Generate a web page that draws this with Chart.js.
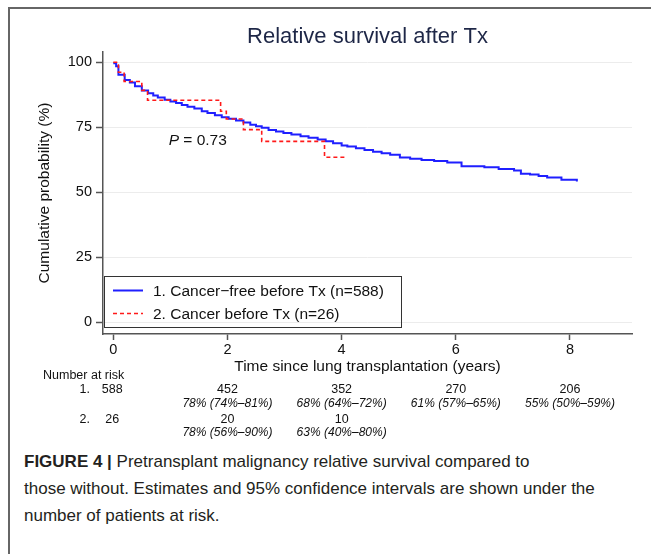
<!DOCTYPE html>
<html>
<head>
<meta charset="utf-8">
<script src="https://cdn.jsdelivr.net/npm/chart.js@4.4.1/dist/chart.umd.min.js"></script>
<style>
  html, body { margin: 0; padding: 0; background: #fff; }
  body { width: 651px; height: 554px; position: relative; overflow: hidden; font-family: "Liberation Sans", Arial, sans-serif; }
  #frame { position: absolute; left: 8px; top: 7px; width: 660px; height: 560px; border-top: 2px solid #666; border-left: 2px solid #666; }
  #wrap { position: absolute; left: 0; top: 0; width: 651px; height: 445px; }
  #caption { position: absolute; left: 24px; top: 448px; font-size: 17px; line-height: 27px; color: #231f20; white-space: nowrap; }
  #caption b { font-weight: bold; }
</style>
</head>
<body>
<div id="frame"></div>
<div id="wrap"><canvas id="km" width="651" height="445"></canvas></div>
<div id="caption"><b>FIGURE 4 |</b> Pretransplant malignancy relative survival compared to<br>those without. Estimates and 95% confidence intervals are shown under the<br>number of patients at risk.</div>
<script>
const chartTitle = 'Relative survival after Tx';
const seriesLabels = ['1. Cancer\u2212free before Tx (n=588)', '2. Cancer before Tx (n=26)'];

// Kaplan-Meier steps (years, %)
const blueTimes = [0, 0.05, 0.09, 0.2, 0.29, 0.38, 0.5, 0.61, 0.7, 0.78, 0.9, 1.0, 1.1, 1.2, 1.3, 1.42, 1.55, 1.65, 1.78, 1.9,
  2.02, 2.15, 2.28, 2.4, 2.5, 2.6, 2.72, 2.85, 2.98, 3.12, 3.28, 3.42, 3.58, 3.72, 3.85, 4.0, 4.1, 4.25, 4.4, 4.55,
  4.7, 4.85, 5.02, 5.2, 5.4, 5.62, 5.85, 6.1, 6.5, 6.75, 7.02, 7.14, 7.3, 7.45, 7.6, 7.85, 8.1, 8.12];
const blueSurv = [99.6, 98.5, 95.2, 93.2, 92.2, 90.8, 89.2, 88.1, 87.2, 86.5, 85.6, 84.9, 84.3, 83.6, 82.9, 82.2, 81.2, 80.5, 79.6, 78.9,
  78.3, 77.6, 76.8, 76.0, 75.4, 74.8, 74.0, 73.4, 72.8, 72.2, 71.6, 71.0, 70.3, 69.6, 68.9, 68.0, 67.6, 66.9, 66.3, 65.6,
  65.0, 64.4, 63.4, 62.9, 62.4, 62.0, 61.5, 60.0, 59.6, 59.0, 58.4, 57.1, 56.8, 56.3, 55.7, 54.8, 54.8, 54.2];
const redTimes = [0, 0.09, 0.19, 0.5, 0.6, 1.88, 1.98, 2.28, 2.6, 3.7, 4.1];
const redSurv = [100, 96.2, 92.6, 89.2, 85.4, 81.2, 78.2, 74.1, 69.6, 63.5, 63.5];

const xTicks = [0, 2, 4, 6, 8];
const yTicks = [0, 25, 50, 75, 100];

const riskTimes = [0, 2, 4, 6, 8];
const risk1 = [588, 452, 352, 270, 206];
const risk2 = [26, 20, 10];
const est1 = ['', '78% (74%\u201381%)', '68% (64%\u201372%)', '61% (57%\u201365%)', '55% (50%\u201359%)'];
const est2 = ['', '78% (56%\u201390%)', '63% (40%\u201380%)'];
const pText = ['P', ' = 0.73'];

const FONT = '"Liberation Sans", Arial, sans-serif';
const BLUE = '#1f1fff';
const RED = '#ff1a1a';

const toPoints = (ts, vs) => ts.map((t, i) => ({ x: t, y: vs[i] }));

const overlay = {
  id: 'overlay',
  afterDraw(chart) {
    const { ctx, chartArea, scales } = chart;
    const x = scales.x, y = scales.y;
    ctx.save();

    // title
    ctx.fillStyle = '#1e2747';
    ctx.font = '22px ' + FONT;
    ctx.textAlign = 'center';
    ctx.textBaseline = 'middle';
    ctx.fillText(chartTitle, (chartArea.left + chartArea.right) / 2, 37);

    // p-value
    ctx.fillStyle = '#111';
    ctx.textAlign = 'left';
    const px = x.getPixelForValue(0.97), py = y.getPixelForValue(69.8);
    ctx.font = 'italic 15.5px ' + FONT;
    ctx.fillText(pText[0], px, py);
    const w = ctx.measureText(pText[0]).width;
    ctx.font = '15.5px ' + FONT;
    ctx.fillText(pText[1], px + w, py);

    // legend box
    ctx.strokeStyle = '#333';
    ctx.lineWidth = 1;
    ctx.strokeRect(104.5, 276.5, 297, 51);
    const rows = [290.5, 313.5];
    chart.data.datasets.forEach((ds, i) => {
      ctx.beginPath();
      ctx.strokeStyle = ds.borderColor;
      ctx.lineWidth = ds.borderWidth;
      ctx.setLineDash(ds.borderDash || []);
      ctx.moveTo(113, rows[i]);
      ctx.lineTo(143, rows[i]);
      ctx.stroke();
      ctx.setLineDash([]);
      ctx.fillStyle = '#111';
      ctx.font = '15.5px ' + FONT;
      ctx.fillText(ds.label, 153, rows[i] + 1);
    });

    // number at risk table
    ctx.fillStyle = '#111';
    ctx.font = '12.5px ' + FONT;
    ctx.textAlign = 'left';
    ctx.fillText('Number at risk', 43, 376);
    ctx.textAlign = 'right';
    ctx.fillText('1.', 90, 390);
    ctx.fillText('2.', 90, 420);
    ctx.textAlign = 'center';
    risk1.forEach((n, i) => ctx.fillText(String(n), x.getPixelForValue(riskTimes[i]) + (i === 0 ? -1 : 0), 390));
    risk2.forEach((n, i) => ctx.fillText(String(n), x.getPixelForValue(riskTimes[i]) + (i === 0 ? -1 : 0), 420));
    ctx.font = 'italic 12px ' + FONT;
    est1.forEach((s, i) => { if (s) ctx.fillText(s, x.getPixelForValue(riskTimes[i]), 403.5); });
    est2.forEach((s, i) => { if (s) ctx.fillText(s, x.getPixelForValue(riskTimes[i]), 433); });

    ctx.restore();
  }
};

new Chart(document.getElementById('km'), {
  type: 'line',
  data: {
    datasets: [
      {
        label: seriesLabels[0],
        data: toPoints(blueTimes, blueSurv),
        borderColor: BLUE,
        borderWidth: 2,
        stepped: true,
        pointRadius: 0,
        order: 1
      },
      {
        label: seriesLabels[1],
        data: toPoints(redTimes, redSurv),
        borderColor: RED,
        borderWidth: 1.6,
        borderDash: [4, 3],
        stepped: true,
        pointRadius: 0,
        order: 0
      }
    ]
  },
  options: {
    responsive: false,
    animation: false,
    devicePixelRatio: 1,
    layout: { padding: { top: 52, left: 0, right: 19, bottom: 69 } },
    plugins: { legend: { display: false }, title: { display: false }, tooltip: { enabled: false } },
    scales: {
      x: {
        type: 'linear',
        min: -0.18,
        max: 9.086,
        afterBuildTicks: s => { s.ticks = xTicks.map(v => ({ value: v })); },
        afterFit: s => { s.height = 42; },
        grid: { drawOnChartArea: false, tickLength: 6, tickColor: '#555', tickWidth: 1.5 },
        border: { color: '#555', width: 1.5 },
        ticks: { color: '#111', font: { family: FONT, size: 14.5 }, padding: 1, maxRotation: 0 },
        title: { display: true, text: 'Time since lung transplantation (years)', color: '#111', font: { family: FONT, size: 15.5 }, padding: { top: 0, bottom: 0 } }
      },
      y: {
        min: -4.5,
        max: 103.96,
        afterBuildTicks: s => { s.ticks = yTicks.map(v => ({ value: v })); },
        afterFit: s => { s.width = 103; },
        grid: { color: '#ececec', lineWidth: 1, tickLength: 7, tickColor: '#555', tickWidth: 1.5 },
        border: { color: '#555', width: 1.5 },
        ticks: { color: '#111', font: { family: FONT, size: 14.5 }, padding: 4 },
        title: { display: true, text: 'Cumulative probability (%)', color: '#111', font: { family: FONT, size: 15.5 }, padding: { top: 35.5, bottom: 0 } }
      }
    }
  },
  plugins: [overlay]
});
</script>
</body>
</html>
